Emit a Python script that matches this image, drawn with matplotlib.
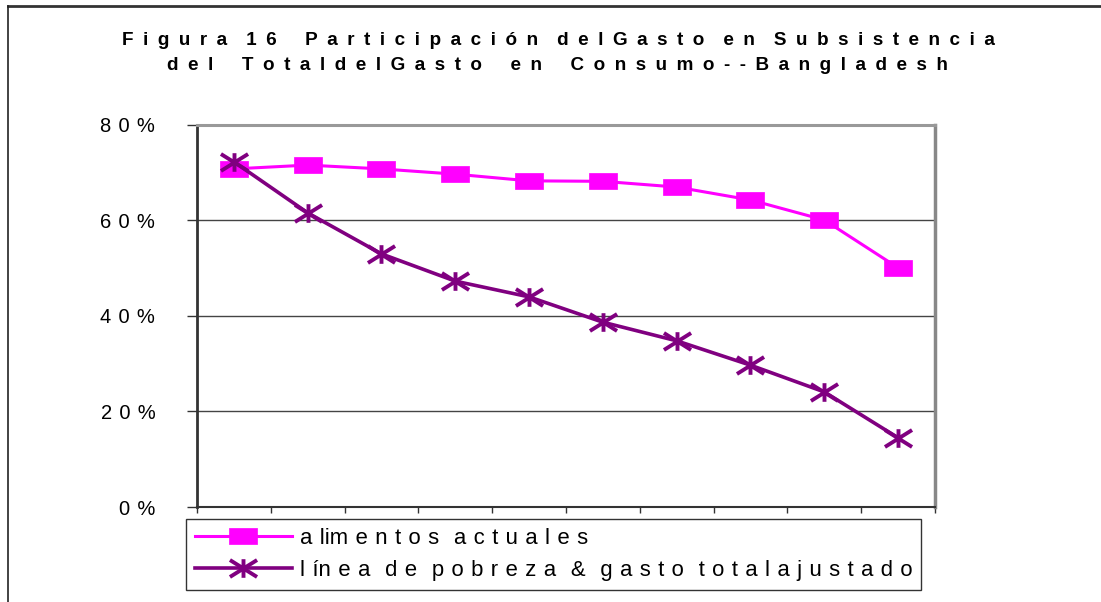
import matplotlib
matplotlib.use("Agg")
import matplotlib.pyplot as plt
from matplotlib.path import Path
from matplotlib.lines import Line2D

# shares of consumption spending, by group
groups = list(range(1, 11))
alimentos = [70.8, 71.6, 70.8, 69.7, 68.3, 68.2, 67.0, 64.3, 60.1, 50.1]
pobreza = [72.3, 61.6, 53.0, 47.3, 44.0, 38.7, 34.8, 29.7, 24.1, 14.5]
ytick_vals = [0, 20, 40, 60, 80]
ytick_labels = ["0 %", "2 0 %", "4 0 %", "6 0 %", "8 0 %"]
label_alim = "a lim e n t o s  a c t u a l e s"
label_pob = "l ín e a  d e  p o b r e z a  &  g a s t o  t o t a l a j u s t a d o"
title1 = "F i g u r a  1 6   P a r t i c i p a c i ó n  d e l G a s t o  e n  S u b s i s t e n c i a"
title2 = "d e l   T o t a l d e l G a s t o   e n   C o n s u m o - - B a n g l a d e s h"


def spread(s, gap):
    # the source text is letter-spaced; widen the plain spaces
    return s.replace(" ", gap)


plt.rcParams["font.family"] = ["Liberation Sans", "DejaVu Sans"]

# wide square and wide asterisk, like the old spreadsheet markers
box = Path([(-0.83, -0.5), (0.83, -0.5), (0.83, 0.5), (-0.83, 0.5), (-0.83, -0.5)],
           [Path.MOVETO, Path.LINETO, Path.LINETO, Path.LINETO, Path.CLOSEPOLY])
star = Path([(-0.8, 0.5), (0.8, -0.5), (-0.8, -0.5), (0.8, 0.5), (0, 0.55), (0, -0.55)],
            [Path.MOVETO, Path.LINETO, Path.MOVETO, Path.LINETO, Path.MOVETO, Path.LINETO])

fig = plt.figure(figsize=(11.01, 6.02), dpi=100)
ax = fig.add_axes([0.1789, 0.1578, 0.6703, 0.6346])

x = [g - 0.5 for g in groups]
ax.plot(x, alimentos, color="#FF00FF", lw=2.2, marker=box, markersize=19.5,
        markerfacecolor="#FF00FF", markeredgecolor="#FF00FF", markeredgewidth=0.5,
        label=spread(label_alim, "\u2004"), zorder=3)
ax.plot(x, pobreza, color="#800080", lw=2.6, marker=star, markersize=19.5,
        markeredgecolor="#800080", markeredgewidth=2.8,
        label=spread(label_pob, "\u2004"), zorder=4)

ax.set_xlim(0, 10)
ax.set_ylim(0, 80)
ax.set_yticks(ytick_vals)
ax.set_yticklabels([spread(t, " \u200a") for t in ytick_labels], fontsize=14.5)
ax.set_xticks(range(0, 11))
ax.set_xticklabels([])
ax.tick_params(axis="y", length=7, width=1, color="#333333", pad=23)
ax.tick_params(axis="x", length=4.5, width=1, color="#333333")
ax.yaxis.grid(True, color="#444444", lw=1)
ax.set_axisbelow(True)

ax.spines["left"].set_color("#333333")
ax.spines["left"].set_linewidth(2)
ax.spines["bottom"].set_color("#333333")
ax.spines["bottom"].set_linewidth(1.5)
ax.spines["top"].set_color("#999999")
ax.spines["top"].set_linewidth(2.2)
ax.spines["right"].set_color("#888888")
ax.spines["right"].set_linewidth(2.5)

leg = fig.legend(loc="lower left", bbox_to_anchor=(0.169, 0.02), fontsize=15.9,
                 frameon=True, fancybox=False, edgecolor="black", handlelength=4.4,
                 handletextpad=0.36, borderpad=0.4, labelspacing=0.52, borderaxespad=0)
leg.get_frame().set_linewidth(1)

fig.text(0.507, 0.9252, spread(title1, "\u2002"), ha="center", va="baseline",
         fontsize=13.55, fontweight="bold")
fig.text(0.506, 0.8837, spread(title2, "\u2002"), ha="center", va="baseline",
         fontsize=13.55, fontweight="bold")

# outer frame of the chart (only top and left show in the crop)
fig.add_artist(Line2D([0.007, 1.0], [0.99, 0.99], transform=fig.transFigure, color="#333333", lw=2))
fig.add_artist(Line2D([0.0075, 0.0075], [0.0, 0.99], transform=fig.transFigure, color="#222222", lw=1.2))

fig.savefig("out.png", dpi=100)
